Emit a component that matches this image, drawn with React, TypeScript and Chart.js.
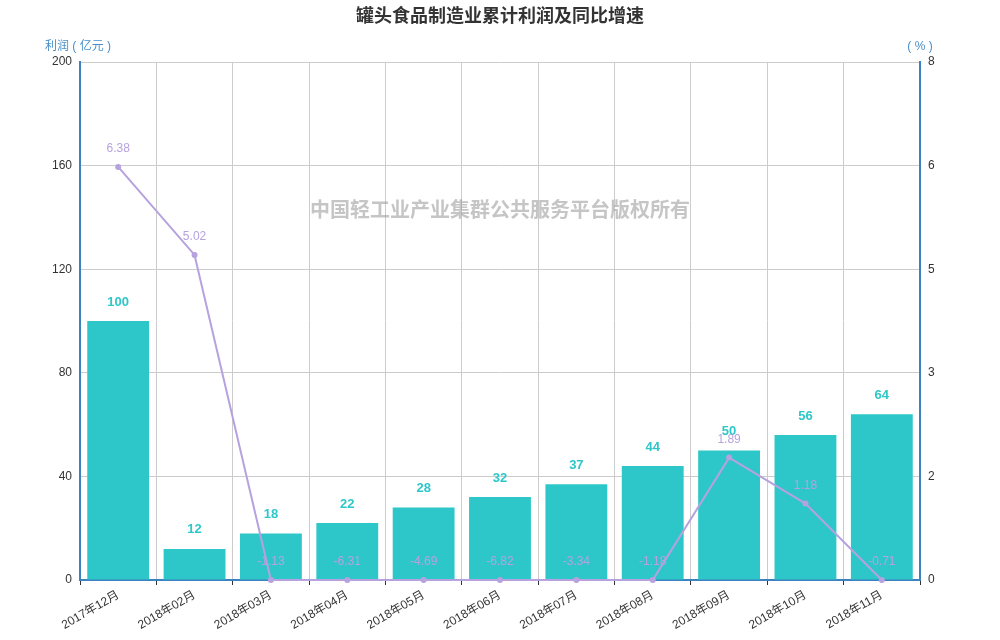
import React, { useEffect, useRef } from 'react';
import { Chart, registerables } from 'chart.js';

Chart.register(...registerables);

const categories = [
  '2017年12月', '2018年02月', '2018年03月', '2018年04月', '2018年05月', '2018年06月',
  '2018年07月', '2018年08月', '2018年09月', '2018年10月', '2018年11月',
];
const profit = [100, 12, 18, 22, 28, 32, 37, 44, 50, 56, 64];
const growth = [6.38, 5.02, -1.13, -6.31, -4.69, -6.82, -3.34, -1.18, 1.89, 1.18, -0.71];
const rightTicks = [0, 1.6, 3.2, 4.8, 6.4, 8];

const FONT = 'Arial, "Liberation Sans", "Noto Sans CJK SC", sans-serif';
const TEAL = '#2ec7c9';
const PURPLE = '#b6a2de';
const AXIS_BLUE = '#3d82c0';

const decorations = {
  id: 'decorations',
  beforeDatasetsDraw(chart: any) {
    const { ctx, chartArea } = chart;
    ctx.save();
    ctx.fillStyle = 'rgba(150,150,150,0.55)';
    ctx.font = `bold 20px ${FONT}`;
    ctx.textAlign = 'center';
    ctx.textBaseline = 'middle';
    ctx.fillText('中国轻工业产业集群公共服务平台版权所有', 500, 211);

    ctx.fillStyle = '#333';
    ctx.font = `bold 18px ${FONT}`;
    ctx.fillText('罐头食品制造业累计利润及同比增速', 500, 17);

    ctx.fillStyle = '#4a8fc9';
    ctx.font = `12px ${FONT}`;
    ctx.fillText('利润 ( 亿元 )', chartArea.left - 2, 47);
    ctx.fillText('( % )', chartArea.right, 47);
    ctx.restore();
  },
  afterDatasetsDraw(chart: any) {
    const { ctx } = chart;
    ctx.save();
    ctx.textAlign = 'center';
    ctx.textBaseline = 'middle';
    const bars = chart.getDatasetMeta(0);
    ctx.fillStyle = TEAL;
    ctx.font = `bold 13px ${FONT}`;
    bars.data.forEach((el: any, i: number) => {
      ctx.fillText(String(profit[i]), el.x, el.y - 19);
    });
    const line = chart.getDatasetMeta(1);
    ctx.fillStyle = PURPLE;
    ctx.font = `12px ${FONT}`;
    line.data.forEach((el: any, i: number) => {
      ctx.fillText(growth[i].toFixed(2), el.x, el.y - 18);
    });
    ctx.restore();
  },
};

const App: React.FC = () => {
  const canvasRef = useRef<HTMLCanvasElement | null>(null);
  const chartRef = useRef<any>(null);

  useEffect(() => {
    if (chartRef.current) chartRef.current.destroy();
    const ctx = canvasRef.current?.getContext('2d');
    if (!ctx) return;

    chartRef.current = new Chart(ctx, {
      type: 'bar',
      data: {
        labels: categories,
        datasets: [
          {
            type: 'bar',
            label: '利润',
            data: profit,
            backgroundColor: TEAL,
            categoryPercentage: 0.81,
            barPercentage: 1,
            yAxisID: 'y',
            order: 2,
          },
          {
            type: 'line',
            label: '同比增速',
            // the right axis starts at 0, so negative growth sits on the axis
            data: growth.map(v => Math.max(0, v)),
            borderColor: PURPLE,
            backgroundColor: PURPLE,
            borderWidth: 2,
            pointRadius: 3,
            pointBorderWidth: 0,
            tension: 0,
            clip: false,
            yAxisID: 'y1',
            order: 1,
          } as any,
        ],
      },
      options: {
        animation: false,
        responsive: true,
        maintainAspectRatio: false,
        layout: { padding: { top: 62, left: 0, right: 0, bottom: 0 } },
        plugins: {
          legend: { display: false },
          title: { display: false },
          tooltip: { enabled: false },
        },
        scales: {
          x: {
            grid: { color: '#cccccc', offset: true, tickColor: '#333', tickLength: 5 },
            border: { color: AXIS_BLUE, width: 2 },
            ticks: {
              color: '#333',
              font: { family: FONT, size: 12 },
              minRotation: 30,
              maxRotation: 30,
              autoSkip: false,
            },
            afterFit: (scale: any) => { scale.height = 60; },
          },
          y: {
            position: 'left',
            min: 0,
            max: 200,
            ticks: { stepSize: 40, color: '#333', font: { family: FONT, size: 12 }, padding: 8 },
            grid: { color: '#cccccc', drawTicks: false },
            border: { color: AXIS_BLUE, width: 2 },
            afterFit: (scale: any) => { scale.width = 80; },
          },
          y1: {
            position: 'right',
            min: 0,
            max: 8,
            afterBuildTicks: (scale: any) => {
              scale.ticks = rightTicks.map(v => ({ value: v }));
            },
            ticks: {
              color: '#333',
              font: { family: FONT, size: 12 },
              padding: 8,
              callback: (value: any) => String(Math.round(Number(value))),
            },
            grid: { drawOnChartArea: false, drawTicks: false },
            border: { color: AXIS_BLUE, width: 2 },
            afterFit: (scale: any) => { scale.width = 80; },
          },
        },
      },
      plugins: [decorations],
    });

    return () => {
      if (chartRef.current) chartRef.current.destroy();
    };
  }, []);

  return (
    <div style={{ position: 'absolute', left: 0, top: 0, width: 1000, height: 640, background: '#fff' }}>
      <canvas ref={canvasRef}></canvas>
    </div>
  );
};

export default App;
